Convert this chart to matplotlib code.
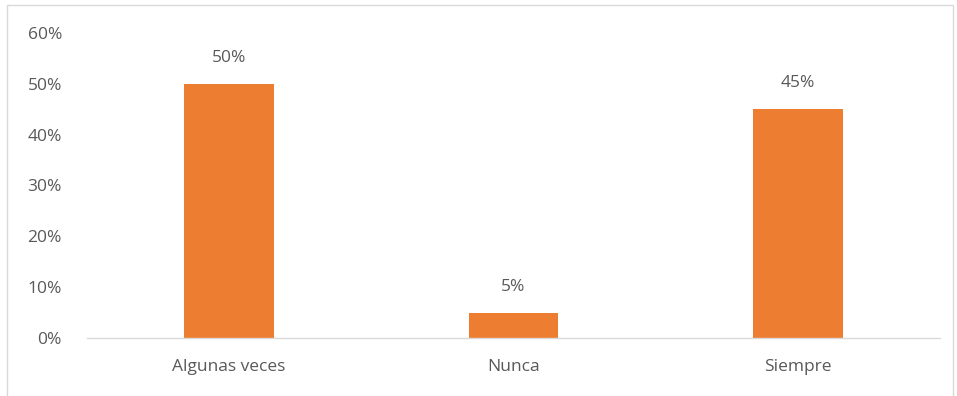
import matplotlib.pyplot as plt
from matplotlib.patches import Rectangle
from matplotlib.ticker import PercentFormatter

categories = ['Algunas veces', 'Nunca', 'Siempre']
values = [0.50, 0.05, 0.45]
value_labels = ['50%', '5%', '45%']

plt.rcParams['font.family'] = ['Open Sans', 'DejaVu Sans']
text_color = '#595959'
fsize = 12.5

fig = plt.figure(figsize=(9.57, 3.96), dpi=100)
ax = fig.add_axes([87 / 957, 1 - 338 / 396, (940 - 87) / 957, (338 - 33) / 396])

x = range(len(categories))
bars = ax.bar(x, values, width=0.315, color='#ED7D31')

for bar, lab in zip(bars, value_labels):
    ax.text(bar.get_x() + bar.get_width() / 2, bar.get_height() + 0.035, lab,
            ha='center', va='bottom', fontsize=fsize, color=text_color)

ax.set_xlim(-0.5, len(categories) - 0.5)
ax.set_ylim(0, 0.6)
ax.set_yticks([0, 0.1, 0.2, 0.3, 0.4, 0.5, 0.6])
ax.yaxis.set_major_formatter(PercentFormatter(1.0, decimals=0))
ax.set_xticks(list(x))
ax.set_xticklabels(categories)

for side in ['top', 'right', 'left']:
    ax.spines[side].set_visible(False)
ax.spines['bottom'].set_color('#D9D9D9')
ax.spines['bottom'].set_linewidth(1)

ax.tick_params(axis='both', length=0, labelsize=fsize, colors=text_color)
ax.tick_params(axis='y', pad=18)
ax.tick_params(axis='x', pad=15)

fig.patches.append(Rectangle((7 / 957, -0.1), 946 / 957, 1.1 - 5 / 396,
                             transform=fig.transFigure, fill=False,
                             edgecolor='#D9D9D9', linewidth=1))

fig.savefig('out.png', dpi=100)
